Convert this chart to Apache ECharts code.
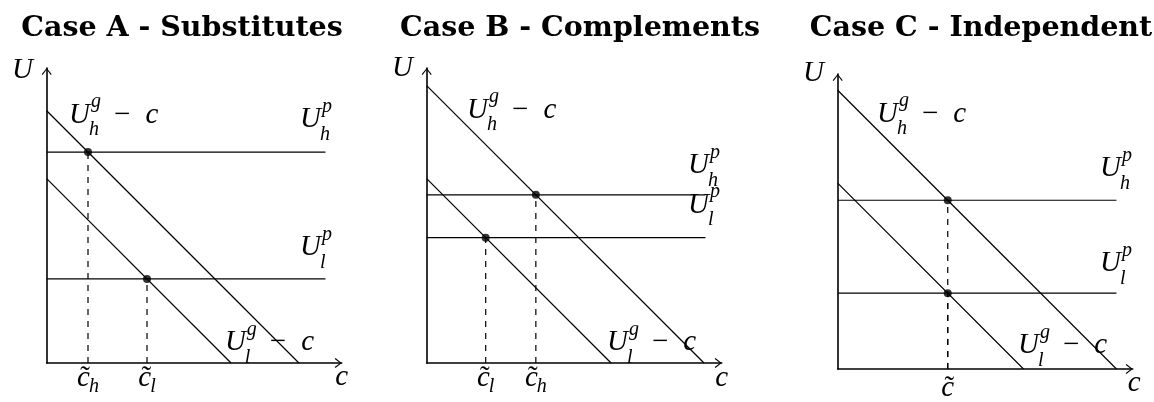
<!DOCTYPE html>
<html>
<head>
<meta charset="utf-8">
<script src="https://cdn.jsdelivr.net/npm/echarts@6/dist/echarts.min.js"></script>
<style>
  html, body { margin: 0; background: #fff; }
  #chart { width: 1154px; height: 402px; }
</style>
</head>
<body>
<div id="chart"></div>
<script>
// one entry per panel: case A, B, C
const titles = ['Case A - Substitutes', 'Case B - Complements', 'Case C - Independent'];
// intercept of U^g - c (high / low type)
const gainHigh = [8.55, 9.4, 9.45];
const gainLow = [6.25, 6.25, 6.3];
// level of U^p (high / low type)
const payHigh = [7.15, 5.7, 5.72];
const payLow = [2.85, 4.25, 2.57];
// where the U^p lines stop
const payEnd = [9.45, 9.45, 9.45];
// subscripts of the c~ ticks (high crossing, low crossing); C has one shared tick
const tickSubs = [['h', 'l'], ['h', 'l'], ['']];

// text anchors in axis units: left edge, baseline
const axisULabel = [[-1.18, 9.59], [-1.18, 9.66], [-1.18, 9.69]];
const axisCLabel = [[10, -0.81], [10, -0.85], [10.05, -0.81]];
const highGLabel = [[0.76, 8.07], [1.37, 8.24], [1.33, 8.31]];
const lowGLabel = [[6.04, 0.37], [6.11, 0.37], [6.11, 0.47]];
const highPLabel = [[8.59, 7.93], [8.86, 6.37], [8.89, 6.47]];
const lowPLabel = [[8.59, 3.59], [8.86, 5.02], [8.89, 3.25]];
const tickLabelY = [-0.85, -0.85, -0.98];

// layout
const titleX = [177, 575, 976];
const gridLeft = [46.7, 426.7, 837.7];
const gridTop = [68, 68, 74];
const SIDE = 295;

const MATH = 'Liberation Serif';
const BASE = 29;
const SCRIPT = 20;
// open arrow head, pointing up
const ARROW = 'path://M5,0L10,6.2L9.1,7L5,1.6L0.9,7L0,6.2Z';

const ctx = document.createElement('canvas').getContext('2d');
function measure(text, size, italic) {
  ctx.font = (italic ? 'italic ' : '') + size + 'px "' + MATH + '"';
  return ctx.measureText(text).width;
}
function glyph(text, x, baseline, size, italic) {
  return {
    type: 'text', x: x, y: baseline - 0.34 * size, silent: true,
    style: {
      text: text, fill: '#000',
      fontSize: size, fontFamily: MATH, fontStyle: italic ? 'italic' : 'normal', fontWeight: 'normal',
      align: 'left', verticalAlign: 'middle'
    }
  };
}

// builds U^g_h - c style labels out of pieces
function drawMath(spec, api) {
  const pt = api.coord(spec.at);
  const kids = [];
  const baseW = measure(spec.base, BASE, true);
  kids.push(glyph(spec.base, 0, 0, BASE, true));
  if (spec.tilde) {
    const tw = measure('\u02dc', BASE, false);
    kids.push(glyph('\u02dc', (baseW - tw) / 2 + 1.5, 0, BASE, false));
  }
  let sw = 0;
  if (spec.sup) {
    kids.push(glyph(spec.sup, baseW + 1, -16, SCRIPT, true));
    sw = measure(spec.sup, SCRIPT, true) + 1;
  }
  if (spec.sub) {
    kids.push(glyph(spec.sub, baseW - 1, spec.sup ? 12 : 5, SCRIPT, true));
    sw = Math.max(sw, measure(spec.sub, SCRIPT, true) - 1);
  }
  const w = baseW + sw;
  if (spec.tail) {
    const mw = measure('\u2212', BASE, false);
    kids.push(glyph('\u2212', w + 13, 0, BASE, false));
    kids.push(glyph('c', w + 13 + mw + 15, 0, BASE, true));
  }
  if (spec.center) {
    kids.forEach(function (k) { k.x -= w / 2; });
  }
  return { type: 'group', x: pt[0], y: pt[1], children: kids };
}

function panelLabels(i) {
  const list = [
    { at: axisULabel[i], base: 'U' },
    { at: axisCLabel[i], base: 'c', center: true },
    { at: highGLabel[i], base: 'U', sup: 'g', sub: 'h', tail: true },
    { at: lowGLabel[i], base: 'U', sup: 'g', sub: 'l', tail: true },
    { at: highPLabel[i], base: 'U', sup: 'p', sub: 'h' },
    { at: lowPLabel[i], base: 'U', sup: 'p', sub: 'l' }
  ];
  const cross = [gainHigh[i] - payHigh[i], gainLow[i] - payLow[i]];
  tickSubs[i].forEach(function (s, k) {
    list.push({ at: [cross[k], tickLabelY[i]], base: 'c', tilde: true, sub: s, center: true });
  });
  return list;
}

function seg(i, pts, dashed) {
  return {
    type: 'line', xAxisIndex: i, yAxisIndex: i, data: pts,
    showSymbol: false, symbol: 'none', silent: true, z: 2,
    lineStyle: { color: '#000', width: 1.2, type: dashed ? [6, 6] : 'solid' }
  };
}

const axisStyle = {
  type: 'value', min: 0, max: 10,
  axisLine: {
    show: true, onZero: false,
    symbol: ['none', ARROW], symbolSize: [11, 7], symbolOffset: [0, -3.5],
    lineStyle: { color: '#000', width: 1.6 }
  },
  axisTick: { show: false },
  axisLabel: { show: false },
  splitLine: { show: false }
};

const grids = [], xAxes = [], yAxes = [], series = [], titleList = [];
for (let i = 0; i < 3; i++) {
  grids.push({ left: gridLeft[i], top: gridTop[i], width: SIDE, height: SIDE });
  xAxes.push(Object.assign({ gridIndex: i }, axisStyle));
  yAxes.push(Object.assign({ gridIndex: i }, axisStyle));
  titleList.push({
    text: titles[i], left: titleX[i], top: 9, textAlign: 'center',
    textStyle: { fontFamily: 'DejaVu Serif', fontWeight: 'bold', fontSize: 28.5, color: '#000' }
  });

  const cH = gainHigh[i] - payHigh[i];
  const cL = gainLow[i] - payLow[i];
  series.push(seg(i, [[0, gainHigh[i]], [gainHigh[i], 0]]));
  series.push(seg(i, [[0, gainLow[i]], [gainLow[i], 0]]));
  series.push(seg(i, [[0, payHigh[i]], [payEnd[i], payHigh[i]]]));
  series.push(seg(i, [[0, payLow[i]], [payEnd[i], payLow[i]]]));
  // dashed drop lines, drawn from the axis up so shared ones overlap cleanly
  series.push(seg(i, [[cH, 0], [cH, payHigh[i]]], true));
  series.push(seg(i, [[cL, 0], [cL, payLow[i]]], true));
  series.push({
    type: 'scatter', xAxisIndex: i, yAxisIndex: i, silent: true, z: 3,
    symbolSize: 8, itemStyle: { color: '#000' },
    data: [[cH, payHigh[i]], [cL, payLow[i]]]
  });

  const labels = panelLabels(i);
  series.push({
    type: 'custom', xAxisIndex: i, yAxisIndex: i, silent: true, z: 4, clip: false,
    data: labels.map(function (l) { return l.at; }),
    renderItem: function (params, api) {
      return drawMath(labels[params.dataIndex], api);
    }
  });
}

const chart = echarts.init(document.getElementById('chart'));
chart.setOption({
  animation: false,
  backgroundColor: '#fff',
  title: titleList,
  grid: grids,
  xAxis: xAxes,
  yAxis: yAxes,
  series: series
});
</script>
</body>
</html>
